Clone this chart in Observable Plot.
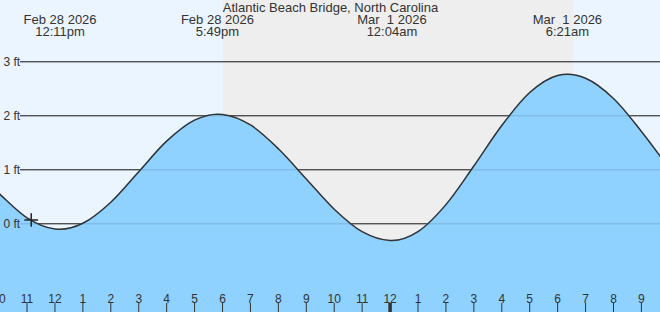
<!DOCTYPE html>
<html>
<head>
<meta charset="utf-8">
<script src="https://cdn.jsdelivr.net/npm/d3@7"></script>
<script src="https://cdn.jsdelivr.net/npm/@observablehq/plot@0.6"></script>
<style>
  html, body { margin: 0; padding: 0; background: #ffffff; }
  #chart svg text { white-space: pre; }
</style>
</head>
<body>
<div id="chart"></div>
<script>
// ---- data ----
const title = "Atlantic Beach Bridge, North Carolina";
const tideTimes = [
  "2026-02-28 09:00", "2026-02-28 10:00", "2026-02-28 11:00", "2026-02-28 12:00",
  "2026-02-28 12:11", "2026-02-28 13:00", "2026-02-28 14:00", "2026-02-28 15:00",
  "2026-02-28 16:00", "2026-02-28 17:00", "2026-02-28 17:49", "2026-02-28 18:00",
  "2026-02-28 19:00", "2026-02-28 20:00", "2026-02-28 21:00", "2026-02-28 22:00",
  "2026-02-28 23:00", "2026-03-01 00:00", "2026-03-01 00:04", "2026-03-01 01:00",
  "2026-03-01 02:00", "2026-03-01 03:00", "2026-03-01 04:00", "2026-03-01 05:00",
  "2026-03-01 06:00", "2026-03-01 06:21", "2026-03-01 07:00", "2026-03-01 08:00",
  "2026-03-01 09:00", "2026-03-01 10:00"
];
const tideHeights = [
  1.05, 0.56, 0.11, -0.095,
  -0.10, 0.01, 0.40, 0.965,
  1.53, 1.92, 2.03, 2.025,
  1.83, 1.39, 0.83, 0.27,
  -0.146, -0.309, -0.31, -0.145,
  0.355, 1.07, 1.82, 2.43,
  2.747, 2.77, 2.696, 2.32,
  1.71, 1.02
];
const extremaTimes = ["2026-02-28 12:11", "2026-02-28 17:49", "2026-03-01 00:04", "2026-03-01 06:21"];
const extremaDateLabels = ["Feb 28 2026", "Feb 28 2026", "Mar  1 2026", "Mar  1 2026"];
const extremaTimeLabels = ["12:11pm", "5:49pm", "12:04am", "6:21am"];
const nightStart = "2026-02-28 18:02";
const nightEnd = "2026-03-01 06:35";
const nowTime = "2026-02-28 11:09";
const nowHeight = 0.07;
const hourTickTimes = [
  "2026-02-28 10:00", "2026-02-28 11:00", "2026-02-28 12:00", "2026-02-28 13:00",
  "2026-02-28 14:00", "2026-02-28 15:00", "2026-02-28 16:00", "2026-02-28 17:00",
  "2026-02-28 18:00", "2026-02-28 19:00", "2026-02-28 20:00", "2026-02-28 21:00",
  "2026-02-28 22:00", "2026-02-28 23:00", "2026-03-01 00:00", "2026-03-01 01:00",
  "2026-03-01 02:00", "2026-03-01 03:00", "2026-03-01 04:00", "2026-03-01 05:00",
  "2026-03-01 06:00", "2026-03-01 07:00", "2026-03-01 08:00", "2026-03-01 09:00",
  "2026-03-01 10:00"
];
const hourTickLabels = ["10","11","12","1","2","3","4","5","6","7","8","9","10","11","12","1","2","3","4","5","6","7","8","9","10"];
const feetTicks = [0, 1, 2, 3];
const feetLabels = ["0 ft", "1 ft", "2 ft", "3 ft"];
const xDomain = ["2026-02-28 10:03", "2026-03-01 09:41"];
const yDomain = [-1.643, 4.135];

// ---- build ----
const parse = d3.timeParse("%Y-%m-%d %H:%M");
const tide = tideTimes.map((t, i) => ({time: parse(t), h: tideHeights[i]}));
const extrema = extremaTimes.map((t, i) => ({time: parse(t), date: extremaDateLabels[i], clock: extremaTimeLabels[i]}));
const hours = hourTickTimes.map((t, i) => ({time: parse(t), label: hourTickLabels[i], midnight: hourTickLabels[i] === "12" && parse(t).getHours() === 0}));
const feet = feetTicks.map((v, i) => ({v, label: feetLabels[i]}));
const textColor = "#333333";
const font = "Liberation Sans, Arial, sans-serif";

const chart = Plot.plot({
  width: 660,
  height: 312,
  marginLeft: 0, marginRight: 0, marginTop: 0, marginBottom: 0,
  style: {background: "#ebf5ff", fontFamily: font, color: textColor},
  x: {type: "time", domain: xDomain.map(parse), axis: null},
  y: {domain: yDomain, axis: null},
  marks: [
    Plot.rect([{a: parse(nightStart), b: parse(nightEnd)}], {x1: "a", x2: "b", fill: "#eeeeee"}),
    Plot.ruleY(feet, {y: "v", stroke: "#222222", strokeWidth: 1, insetLeft: 20}),
    Plot.areaY(tide, {x: "time", y1: () => yDomain[0], y2: "h", fill: "#8fd1ff", curve: "monotone-x"}),
    Plot.ruleY(feet, {y: "v", stroke: "#000000", strokeOpacity: 0.14, strokeWidth: 1, insetLeft: 20}),
    Plot.line(tide, {x: "time", y: "h", stroke: "#333333", strokeWidth: 1.5, curve: "monotone-x"}),
    Plot.text(feet, {y: "v", text: "label", frameAnchor: "left", dx: 3, textAnchor: "start", fontSize: 12, fill: textColor}),
    Plot.text([title], {frameAnchor: "top", dy: 2, lineAnchor: "top", fontSize: 13, fill: textColor}),
    Plot.text(extrema, {x: "time", text: "date", frameAnchor: "top", dy: 14, lineAnchor: "top", fontSize: 13, fill: textColor}),
    Plot.text(extrema, {x: "time", text: "clock", frameAnchor: "top", dy: 26, lineAnchor: "top", fontSize: 13, fill: textColor}),
    Plot.ruleX(hours, {x: "time", stroke: "#333333", strokeWidth: d => d.midnight ? 3.5 : 1, insetTop: 303}),
    Plot.text(hours, {x: "time", text: "label", frameAnchor: "bottom", dy: -10, lineAnchor: "bottom", fontSize: 12, fill: textColor}),
    Plot.dot([{t: parse(nowTime), h: nowHeight}], {x: "t", y: "h", symbol: "plus", r: 4.5, stroke: "#222222", strokeWidth: 1.5})
  ]
});
document.getElementById("chart").appendChild(chart);
</script>
</body>
</html>
